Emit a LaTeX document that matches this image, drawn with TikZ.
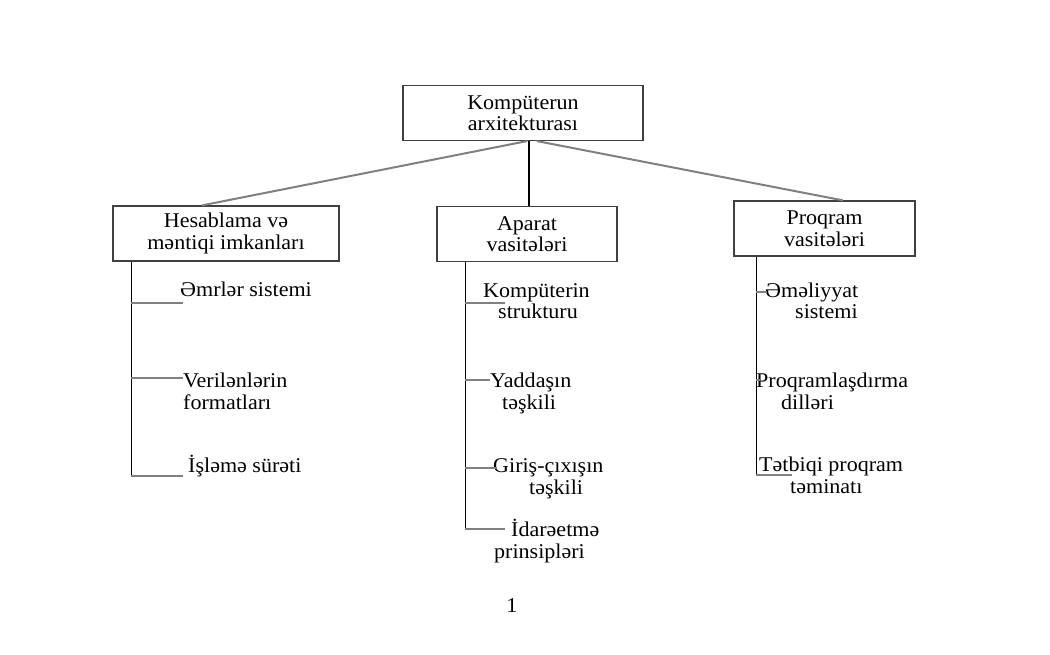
\documentclass[tikz,border=0pt]{standalone}
\usepackage{fontspec}
\setmainfont{Liberation Serif}[FakeStretch=1.05]
\usetikzlibrary{positioning,calc}

\begin{document}
\begin{tikzpicture}[x=1pt, y=-1pt,
    boxnode/.style={rectangle, draw=black!75, line width=1.2pt, minimum width=#1,
      minimum height=55pt, align=center, inner sep=0pt, font=\fontsize{21}{21.5}\selectfont},
    itemlabel/.style={anchor=base west, align=left, inner sep=0pt, font=\fontsize{21}{21.5}\selectfont},
    branch/.style={draw=black!50, line width=2pt},
    stem/.style={draw=black, line width=1.3pt},
    tick/.style={draw=black!50, line width=1.6pt}]

  \useasboundingbox (0,0) rectangle (1050,655);

  % Define nodes
  \node[boxnode=240pt] (arch) at (523,113) {Kompüterun\\arxitekturası};
  \node[boxnode=226pt] (hes) at (226,233.5) {Hesablama və\\məntiqi imkanları};
  \node[boxnode=180pt] (apa) at (527,234) {Aparat\\vasitələri};
  \node[boxnode=181pt] (prq) at (824.5,228.5) {Proqram\\vasitələri};

  % Hesablama -->
  \node[itemlabel] (cmd) at (180,297) {Əmrlər sistemi};
  \node[itemlabel] (fmt) at (183,409) {Verilənlərin\\formatları};
  \node[itemlabel] (spd) at (188,472) {İşləmə sürəti};

  % Aparat -->
  \node[itemlabel] (str) at (483,319) {Kompüterin\\\hspace*{15pt}strukturu};
  \node[itemlabel] (mem) at (490,409) {Yaddaşın\\\hspace*{12pt}təşkili};
  \node[itemlabel] (io) at (493,494) {Giriş-çıxışın\\\hspace*{36pt}təşkili};
  \node[itemlabel] (ctl) at (494,558) {\hspace*{17pt}İdarəetmə\\prinsipləri};

  % Proqram -->
  \node[itemlabel] (os) at (765,319) {Əməliyyat\\\hspace*{30pt}sistemi};
  \node[itemlabel] (lang) at (756,409) {Proqramlaşdırma\\\hspace*{25pt}dilləri};
  \node[itemlabel] (app) at (759,493) {Tətbiqi proqram\\\hspace*{31pt}təminatı};

  \node[font=\fontsize{21}{21.5}\selectfont] (page) at (512,606) {1};

  % tick ends
  \coordinate (cmdT) at (183,303);
  \coordinate (fmtT) at (183,378);
  \coordinate (spdT) at (183,476);
  \coordinate (strT) at (505,303);
  \coordinate (memT) at (490,380);
  \coordinate (ioT) at (497,468);
  \coordinate (ctlT) at (505,529);
  \coordinate (osT) at (767,292);
  \coordinate (langT) at (760,380);
  \coordinate (appT) at (792,475);

  \coordinate (hesS) at ([xshift=19pt]hes.south west);
  \coordinate (apaS) at ([xshift=29pt]apa.south west);
  \coordinate (prqS) at ([xshift=23pt]prq.south west);

  \draw[branch] ([xshift=4pt]arch.south) -- ([xshift=-24pt]hes.north);
  \draw[stem] ([xshift=6pt]arch.south) -- ([xshift=2pt]apa.north);
  \draw[branch] ([xshift=14pt]arch.south) -- ([xshift=18.5pt]prq.north);

  \draw[stem] (hesS) -- (hesS |- spdT);
  \draw[stem] (apaS) -- (apaS |- ctlT);
  \draw[stem] (prqS) -- (prqS |- appT);

  \draw[tick] (hesS |- cmdT) -- (cmdT);
  \draw[tick] (hesS |- fmtT) -- (fmtT);
  \draw[tick] (hesS |- spdT) -- (spdT);

  \draw[tick] (apaS |- strT) -- (strT);
  \draw[tick] (apaS |- memT) -- (memT);
  \draw[tick] (apaS |- ioT) -- (ioT);
  \draw[tick] (apaS |- ctlT) -- (ctlT);

  \draw[tick] (prqS |- osT) -- (osT);
  \draw[tick] (prqS |- langT) -- (langT);
  \draw[tick] (prqS |- appT) -- (appT);

\end{tikzpicture}
\end{document}
